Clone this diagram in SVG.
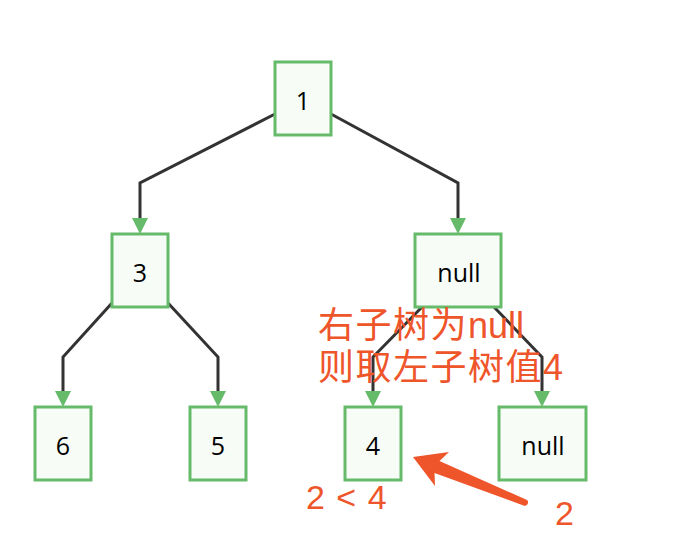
<svg xmlns="http://www.w3.org/2000/svg" width="676" height="544" viewBox="0 0 676 544">
<style>
.node rect{fill:#f7fcf7;stroke:#66bb6a;stroke-width:3}
.node text{font-family:"Open Sans","DejaVu Sans",sans-serif;font-size:25px;fill:#000;text-anchor:middle}
.edge{fill:none;stroke:#333;stroke-width:3;marker-end:url(#ah)}
.note{font-family:"Liberation Sans","Noto Sans CJK SC",sans-serif;fill:#ef552a}
.cjk{letter-spacing:1.5px}
</style>
<defs>
<marker id="ah" markerUnits="userSpaceOnUse" markerWidth="16" markerHeight="16" viewBox="0 0 16 16" refX="0" refY="8" orient="auto">
<path d="M0,0 L16,8 L0,16 z" fill="#66bb6a"/>
</marker>
</defs>
<rect width="676" height="544" fill="#fff"/>
<g id="connectors">
<path class="edge" d="M275,114 L140,183 L140,218"/>
<path class="edge" d="M331,114 L458,183 L458,218"/>
<path class="edge" d="M112,303 L63,357 L63,391"/>
<path class="edge" d="M168,303 L218,357 L218,391"/>
<path class="edge" d="M422,307 L373,357 L373,391"/>
<path class="edge" d="M494,307 L542,357 L542,391"/>
</g>
<g id="n1" class="node"><rect x="275" y="62" width="56" height="73"/><text x="303" y="110">1</text></g>
<g id="n3" class="node"><rect x="112" y="234" width="56" height="73"/><text x="140" y="282">3</text></g>
<g id="nnull1" class="node"><rect x="415" y="234" width="86" height="73"/><text x="459" y="282">null</text></g>
<g id="n6" class="node"><rect x="35" y="407" width="56" height="73"/><text x="63" y="455">6</text></g>
<g id="n5" class="node"><rect x="190" y="407" width="56" height="73"/><text x="218" y="455">5</text></g>
<g id="n4" class="node"><rect x="345" y="407" width="56" height="73"/><text x="373" y="455">4</text></g>
<g id="nnull2" class="node"><rect x="499" y="407" width="87" height="73"/><text x="543" y="455">null</text></g>
<g id="annotations">
<text class="note" font-size="36" x="318" y="338"><tspan class="cjk">右子树为</tspan>null</text>
<text class="note" font-size="36" x="318" y="380"><tspan class="cjk">则取左子树值</tspan>4</text>
<text class="note" font-size="34" x="306" y="509" letter-spacing="1">2 &lt; 4</text>
<text class="note" font-size="34" x="555" y="525">2</text>
<path d="M413,457 L449,452 L439.5,461 L526,499.5 A3.2,3.2 0 0 1 523.5,505.5 L434.5,473 L435,486 Z" fill="#ef552a"/>
</g>
</svg>
